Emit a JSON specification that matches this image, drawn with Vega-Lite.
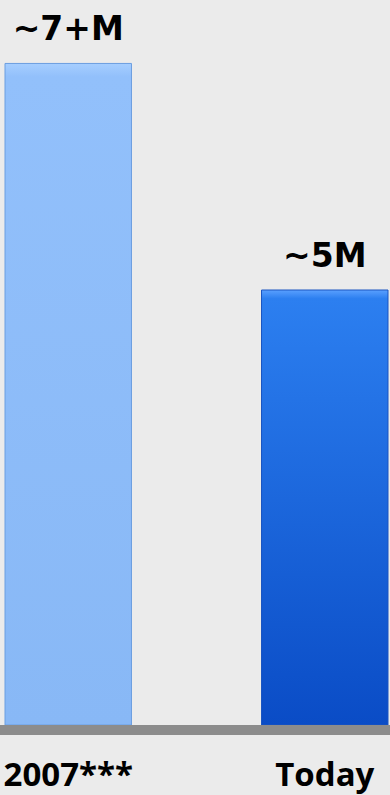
{
  "$schema": "https://vega.github.io/schema/vega-lite/v6.json",
  "width": 390,
  "height": 725,
  "autosize": {"type": "none"},
  "padding": {"left": 0, "top": 0, "right": 0, "bottom": 70},
  "background": "#ebebeb",
  "config": {"view": {"stroke": null}},
  "data": {"values": [
    {"period": "2007***", "users": 7.3, "label": "~7+M"},
    {"period": "Today", "users": 4.8, "label": "~5M"}
  ]},
  "encoding": {
    "x": {
      "field": "period", "type": "nominal", "sort": null,
      "scale": {"range": [5, 388], "paddingInner": 0.507, "paddingOuter": 0},
      "axis": {
        "title": null, "domain": false, "ticks": false, "tickSize": 0, "labelAngle": 0,
        "labelFont": "Open Sans", "labelFontSize": 33, "labelFontWeight": "bold",
        "labelColor": "#000000", "labelBaseline": "alphabetic", "labelPadding": 60,
        "labelFlush": false, "labelOverlap": false
      }
    },
    "y": {
      "field": "users", "type": "quantitative",
      "scale": {"domain": [0, 8], "nice": false},
      "axis": null
    }
  },
  "layer": [
    {
      "transform": [{"filter": "datum.period === '2007***'"}],
      "mark": {"type": "bar", "stroke": "#6b9ee0", "strokeWidth": 1,
        "color": {"gradient": "linear", "x1": 0, "y1": 0, "x2": 0, "y2": 1,
          "stops": [{"offset": 0, "color": "#a6ceff"}, {"offset": 0.02, "color": "#92c0fb"}, {"offset": 1, "color": "#88b8f6"}]}}
    },
    {
      "transform": [{"filter": "datum.period === 'Today'"}],
      "mark": {"type": "bar", "stroke": "#1a55c0", "strokeWidth": 1,
        "color": {"gradient": "linear", "x1": 0, "y1": 0, "x2": 0, "y2": 1,
          "stops": [{"offset": 0, "color": "#5aa0ff"}, {"offset": 0.02, "color": "#2c7ff0"}, {"offset": 1, "color": "#0a4cc6"}]}}
    },
    {
      "mark": {"type": "text", "baseline": "alphabetic", "dy": -23,
        "font": "DejaVu Sans", "fontSize": 33, "fontWeight": "bold", "color": "#000000"},
      "encoding": {"text": {"field": "label"}}
    },
    {
      "data": {"values": [{"base": 0}]},
      "mark": {"type": "rule", "color": "#8c8c8c", "strokeWidth": 10, "yOffset": 5},
      "encoding": {"y": {"field": "base", "type": "quantitative"}, "x": {"value": 0}, "x2": {"value": 390}}
    }
  ]
}
